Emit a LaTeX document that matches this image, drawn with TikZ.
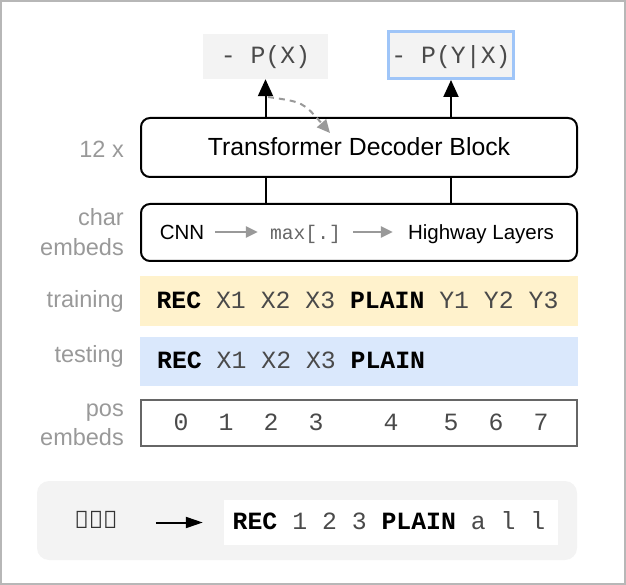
\documentclass[tikz,border=0pt]{standalone}
\usepackage{fontspec}
\setmainfont{Liberation Sans}
\setmonofont{Liberation Mono}
\newfontfamily\runefont{Noto Sans}
\usetikzlibrary{arrows.meta}
\definecolor{lblgray}{HTML}{999999}
\definecolor{tokgray}{HTML}{4A4A4A}
\definecolor{pxfill}{HTML}{F3F3F3}
\definecolor{pyborder}{HTML}{9FC5F8}
\definecolor{trainfill}{HTML}{FFF2CC}
\definecolor{testfill}{HTML}{DAE8FC}
\definecolor{posborder}{HTML}{666666}
\definecolor{framegray}{HTML}{B7B7B7}
\definecolor{dashgray}{HTML}{999999}
\definecolor{runegray}{HTML}{333333}
\tikzset{
  lbl/.style={anchor=base east, text=lblgray, inner sep=0pt, font=\fontsize{23.5}{28}\selectfont},
  blk/.style={draw=black, line width=2pt, rounded corners=9pt, minimum width=436pt, inner sep=0pt},
  band/.style={minimum width=438pt, inner sep=0pt},
  tok/.style={font=\ttfamily\fontsize{24.8}{28}\selectfont, text=tokgray, inner sep=0pt},
  uparr/.style={line width=2pt, -{Triangle[length=17pt,width=15pt]}},
  grayarr/.style={draw=lblgray, line width=2.5pt, -{Triangle[length=12pt,width=11pt]}},
  dasharr/.style={draw=dashgray, line width=2pt, dash pattern=on 6pt off 5pt, -{Triangle[length=13pt,width=12pt]}},
  blackarr/.style={line width=2pt, -{Triangle[length=17pt,width=11pt]}},
  conn/.style={line width=2pt}
}
\newcommand{\bt}[1]{\textcolor{black}{\textbf{#1}}}
\begin{document}
\begin{tikzpicture}[x=1pt,y=-1pt]
\useasboundingbox (0,0) rectangle (626,585);
\draw[framegray, line width=2pt] (1,1) rectangle (625,584);

% outputs
\node[fill=pxfill, minimum width=125pt, minimum height=45pt, inner sep=0pt] (px) at (265.5,56.5) {};
\node[tok, anchor=base] (pxt) at (265.5,63.5) {- P(X)};
\node[fill=pxfill, draw=pyborder, line width=3pt, minimum width=125pt, minimum height=47pt, inner sep=0pt] (py) at (451,55) {};
\node[tok, anchor=base] (pyt) at (451,63.5) {- P(Y|X)};

% decoder
\node[blk, minimum height=59pt] (dec) at (359,147.5) {};
\node[anchor=base, inner sep=0pt, font=\fontsize{24.8}{28}\selectfont] (dect) at (359,156) {Transformer Decoder Block};
\node[lbl] (l12) at (124,158) {12 x};

\draw[uparr] (dec.north -| px.south) -- (px.south);
\draw[uparr] (dec.north -| py.south) -- (py.south);
\coordinate (ds) at (268,97);
\coordinate (de) at (330,133);
\draw[dasharr] (ds) .. controls (303,102) .. (de);

% char embeds
\node[blk, minimum height=57pt] (char) at (359,232.5) {};
\draw[conn] (dec.south -| px.south) -- (char.north -| px.south);
\draw[conn] (dec.south -| py.south) -- (char.north -| py.south);
\node[anchor=base, inner xsep=11pt, inner ysep=0pt, font=\fontsize{20.5}{24}\selectfont] (cnn) at (182,239.5) {CNN};
\node[anchor=base, inner xsep=12pt, inner ysep=0pt, font=\ttfamily\fontsize{19.7}{24}\selectfont, text=posborder] (mx) at (305.5,239.5) {max[.]};
\node[anchor=base, inner xsep=15pt, inner ysep=0pt, font=\fontsize{20.5}{24}\selectfont] (hw) at (481,239.5) {Highway Layers};
\draw[grayarr] (cnn.east |- 0,232) -- (mx.west |- 0,232);
\draw[grayarr] (mx.east |- 0,232) -- (hw.west |- 0,232);
\node[lbl] (lchar) at (124,226) {char};
\node[lbl] (lcemb) at (124,255) {embeds};

% training
\node[band, fill=trainfill, minimum height=50pt] (train) at (359,301) {};
\node[tok, anchor=base] (traint) at (357.5,308) {\bt{REC} X1 X2 X3 \bt{PLAIN} Y1 Y2 Y3};
\node[lbl] (ltrain) at (124,307) {training};

% testing
\node[band, fill=testfill, minimum height=49pt] (test) at (359,361.5) {};
\node[tok, anchor=base west] (testt) at (157,368) {\bt{REC} X1 X2 X3 \bt{PLAIN}};
\node[lbl] (ltest) at (124,362) {testing};

% pos embeds
\node[draw=posborder, line width=2pt, minimum width=436pt, minimum height=46pt, inner sep=0pt] (pos) at (359,423) {};
\foreach \n/\x in {0/181,1/226,2/271,3/316,4/391,5/451,6/496,7/541}{
  \node[tok, anchor=base] (d\n) at (\x,430.5) {\n};
}
\node[lbl] (lpos) at (124,416) {pos};
\node[lbl] (lpemb) at (124,445) {embeds};

% bottom example
\node[fill=pxfill, rounded corners=12pt, minimum width=540pt, minimum height=79pt, inner sep=0pt] (panel) at (307,520.5) {};
\node[fill=white, minimum width=334pt, minimum height=45pt, inner sep=0pt] (ex) at (391,522.5) {};
\node[tok, anchor=base] (ext) at (389,529) {\bt{REC} 1 2 3 \bt{PLAIN} a l l};
\node[anchor=base, inner sep=0pt, text=runegray, font=\runefont\bfseries\fontsize{24}{28}\selectfont] (rune) at (96,528) {\reflectbox{ᚠ}ᛞᛗ};
\draw[blackarr, shorten <=38pt, shorten >=21pt] (rune.east |- ex.west) -- (ex.west);
\end{tikzpicture}
\end{document}
